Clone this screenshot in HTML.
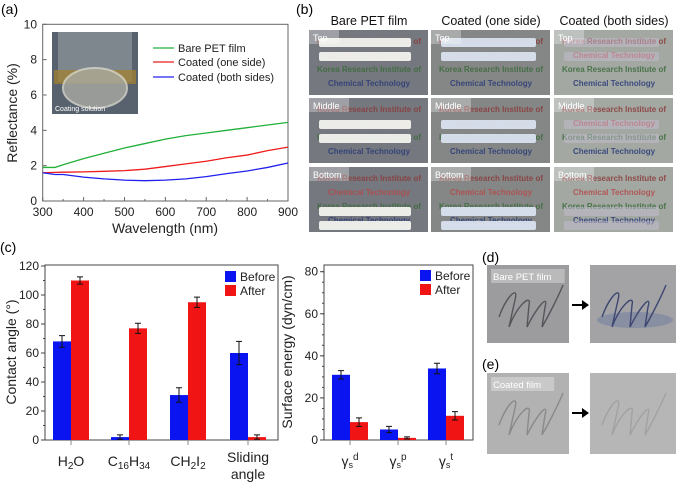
<!DOCTYPE html>
<html><head><meta charset="utf-8"><style>
body{margin:0;background:#fff;font-family:"Liberation Sans",Arial,sans-serif}
svg{display:block}
text{font-family:"Liberation Sans",Arial,sans-serif}
</style></head><body>
<svg id="fig" width="676" height="485" viewBox="0 0 676 485">
<rect width="676" height="485" fill="#fff"/>
<text x="1" y="14" font-size="14">(a)</text>
<text x="296" y="14" font-size="14">(b)</text>
<text x="0" y="252" font-size="14">(c)</text>
<text x="482" y="262" font-size="14">(d)</text>
<text x="482" y="369" font-size="14">(e)</text>

<g id="pa"></g>
<g id="pb"></g>
<g id="pc1"></g>
<g id="pc2"></g>
<g id="pd"></g>
</svg>
<script>
const NS="http://www.w3.org/2000/svg";
function mk(p,t,a,txt){const e=document.createElementNS(NS,t);for(const k in a)e.setAttribute(k,a[k]);if(txt!==undefined)e.textContent=txt;p.appendChild(e);return e;}

const wl=[300,330,350,400,450,500,550,600,650,700,750,800,850,900];
const bare=[1.9,1.9,2.05,2.4,2.7,3.0,3.25,3.5,3.7,3.85,4.0,4.15,4.3,4.45];
const oneSide=[1.6,1.62,1.63,1.65,1.68,1.72,1.8,1.95,2.1,2.25,2.45,2.6,2.85,3.05];
const bothSides=[1.6,1.5,1.5,1.35,1.25,1.18,1.15,1.18,1.25,1.38,1.55,1.7,1.9,2.15];
const aXTicks=[300,400,500,600,700,800,900];
const aYTicks=[0,2,4,6,8,10];

const pa=document.getElementById('pa');
const ax=v=>42.7+(v-300)/600*245.3, ay=v=>201-v/10*176.7;
mk(pa,'rect',{x:42.7,y:24.3,width:245.3,height:176.7,fill:'none',stroke:'#666','stroke-width':1});
aXTicks.forEach(t=>{mk(pa,'line',{x1:ax(t),x2:ax(t),y1:201,y2:197,stroke:'#666'});
 let e=mk(pa,'text',{x:ax(t),y:216,'font-size':12,'text-anchor':'middle',fill:'#222'},t);});
for(let t=350;t<900;t+=100){mk(pa,'line',{x1:ax(t),x2:ax(t),y1:201,y2:199,stroke:'#666'});}
aYTicks.forEach(t=>{mk(pa,'line',{x1:42.7,x2:46.7,y1:ay(t),y2:ay(t),stroke:'#666'});
 let e=mk(pa,'text',{x:37,y:ay(t)+4,'font-size':12,'text-anchor':'end',fill:'#222'},t);});
let tt=mk(pa,'text',{x:165,y:233,'font-size':14,'text-anchor':'middle',fill:'#222'},'Wavelength (nm)');

tt=mk(pa,'text',{x:0,y:0,'font-size':14,'text-anchor':'middle',fill:'#222',transform:'translate(17,113) rotate(-90)'},'Reflectance (%)');

[[bare,'#22b03a','bare-pet-line'],[oneSide,'#ee1c1c','coated-one-side-line'],[bothSides,'#2020ee','coated-both-sides-line']].forEach(([s,c,n])=>{
 let l=mk(pa,'polyline',{points:wl.map((w,i)=>ax(w)+','+ay(s[i])).join(' '),fill:'none',stroke:c,'stroke-width':1.3});
 });
const ins=mk(pa,'g',{});
mk(ins,'rect',{x:52,y:32,width:86,height:82,fill:'#58626e'});
mk(ins,'rect',{x:58,y:32,width:74,height:50,fill:'#9aa0a4',opacity:.6});
mk(ins,'rect',{x:54,y:70,width:82,height:14,fill:'#a08030',opacity:.75});
mk(ins,'ellipse',{cx:95,cy:88,rx:32,ry:20,fill:'#a9aaa2',opacity:.8,stroke:'#d8d8cc','stroke-width':2});
mk(ins,'text',{x:55,y:111,'font-size':7,fill:'#fff'},'Coating solution');
[['Bare PET film','#22b03a',48],['Coated (one side)','#ee1c1c',62],['Coated (both sides)','#2020ee',77]].forEach(([t,c,y])=>{
 let l=mk(pa,'line',{x1:153,x2:174,y1:y,y2:y,stroke:c,'stroke-width':1.3});
 let e=mk(pa,'text',{x:178,y:y+4,'font-size':11,fill:'#222'},t);});

const pb=document.getElementById('pb');
const cols=[309,431,554], rows=[30,98,167], rowNames=['Top','Middle','Bottom'];
const titles=['Bare PET film','Coated (one side)','Coated (both sides)'];
const bgs=['#75787e','#858786','#a3a8a2'];
titles.forEach((t,i)=>{let e=mk(pb,'text',{x:cols[i]+60,y:25,'font-size':12.5,'text-anchor':'middle',fill:'#111'},t);});
cols.forEach((cx,ci)=>rows.forEach((ry,ri)=>{
 const g=mk(pb,'g',{});
 mk(g,'rect',{x:cx,y:ry,width:119,height:65,fill:bgs[ci]});
 const lines=[['Korea Research Institute of','#8a3a3a'],['Chemical Technology','#b44a4a'],['Korea Research Institute of','#3b6a3b'],['Chemical Technology','#2a3a78']];
 lines.forEach((l,k)=>mk(g,'text',{x:cx+60,y:ry+14+k*14,'font-size':8,'font-weight':'bold','text-anchor':'middle',fill:l[1],opacity:.85},l[0]));
 const stripeY=ri===0?[ry+8,ry+22]:ri===1?[ry+22,ry+36]:[ry+40,ry+54];
 const sc=ci===0?'#f2f2ee':ci===1?'#d8e2ee':'#c9c0d8';
 const so=ci===2?0.45:0.95;
 stripeY.forEach(y=>mk(g,'rect',{x:cx+10,y:y,width:ci===0?92:95,height:9,fill:sc,opacity:so,rx:2}));
 mk(g,'rect',{x:cx,y:ry,width:ri===0?30:40,height:14,fill:'#fff',opacity:.3});
 mk(g,'text',{x:cx+4,y:ry+11,'font-size':9,fill:'#fff'},rowNames[ri]);
}));

const caCats=['H2O','C16H34','CH2I2','Sliding angle'];
const caBefore=[68,2,31,60], caBeforeErr=[4,1.5,5,8];
const caAfter=[110,77,95,2], caAfterErr=[2.5,3.5,3.5,1.5];
const caTicks=[0,20,40,60,80,100,120];
const seCats=['gd','gp','gt'];
const seBefore=[31,5,34], seBeforeErr=[2,1.5,2.5];
const seAfter=[8.5,1,11.5], seAfterErr=[2,0.5,2];
const seTicks=[0,20,40,60,80];

function barChart(g,x0,x1,y0,yTop,maxV,ticks,minorStep,centers,bef,befE,aft,aftE){
 const y=v=>y0-v/maxV*(y0-yTop);
 mk(g,'rect',{x:x0,y:265,width:x1-x0,height:y0-265,fill:'none',stroke:'#444'});
 ticks.forEach(t=>{mk(g,'line',{x1:x0,x2:x0-4,y1:y(t),y2:y(t),stroke:'#444'});
  let e=mk(g,'text',{x:x0-6,y:y(t)+4,'font-size':12,'text-anchor':'end',fill:'#222'},t);});
 for(let v=0;v<=ticks[ticks.length-1];v+=minorStep)mk(g,'line',{x1:x0,x2:x0-2,y1:y(v),y2:y(v),stroke:'#444'});
 centers.forEach((c,i)=>{
  mk(g,'line',{x1:c,x2:c,y1:y0,y2:y0+5,stroke:'#888'});
  let b=mk(g,'rect',{x:c-18,y:y(bef[i]),width:18,height:y0-y(bef[i]),fill:'#0a14f0'});
  let a=mk(g,'rect',{x:c,y:y(aft[i]),width:18,height:y0-y(aft[i]),fill:'#f01414'});
  [[c-9,bef[i],befE[i]],[c+9,aft[i],aftE[i]]].forEach(([cx,v,e])=>{
   mk(g,'path',{d:`M${cx},${y(v-e)}V${y(v+e)}M${cx-3},${y(v-e)}H${cx+3}M${cx-3},${y(v+e)}H${cx+3}`,stroke:'#111','stroke-width':1,fill:'none'});});
 });
}
function legend(g,x,y){
 mk(g,'rect',{x:x,y:y,width:11,height:11,fill:'#0a14f0'});
 let e=mk(g,'text',{x:x+15,y:y+10,'font-size':12,fill:'#222'},'Before');
 mk(g,'rect',{x:x,y:y+14,width:11,height:11,fill:'#f01414'});
 e=mk(g,'text',{x:x+15,y:y+24,'font-size':12,fill:'#222'},'After');
}
const pc1=document.getElementById('pc1');
barChart(pc1,45,278,440,266,120,caTicks,10,[71,129,188,248],caBefore,caBeforeErr,caAfter,caAfterErr);
legend(pc1,225,271);
tt=mk(pc1,'text',{x:0,y:0,'font-size':14,'text-anchor':'middle',fill:'#222',transform:'translate(16,352) rotate(-90)'},'Contact angle (°)');

const catHtml=[['H','2','O'],['C','16','H','34'],['CH','2','I','2']];
catHtml.forEach((parts,i)=>{const t=mk(pc1,'text',{x:[71,129,188][i],y:466,'font-size':14,'text-anchor':'middle',fill:'#222'});
 
 parts.forEach((p,k)=>{mk(t,'tspan',k%2?{'font-size':10,dy:3}:{'font-size':14,dy:k?-3:0},p);});});
tt=mk(pc1,'text',{x:248,y:462,'font-size':14,'text-anchor':'middle',fill:'#222'},'Sliding');
tt=mk(pc1,'text',{x:248,y:479,'font-size':14,'text-anchor':'middle',fill:'#222'},'angle');

const pc2=document.getElementById('pc2');
barChart(pc2,324,473,440,271.7,80,seTicks,5,[350,398,446],seBefore,seBeforeErr,seAfter,seAfterErr);
legend(pc2,420,270);
tt=mk(pc2,'text',{x:0,y:0,'font-size':14,'text-anchor':'middle',fill:'#222',transform:'translate(292,352) rotate(-90)'},'Surface energy (dyn/cm)');

['d','p','t'].forEach((s,i)=>{const t=mk(pc2,'text',{x:[350,398,446][i],y:466,'font-size':14,'text-anchor':'middle',fill:'#222'});
 
 mk(t,'tspan',{},'γ');mk(t,'tspan',{'font-size':9,dy:2},'s');mk(t,'tspan',{'font-size':10,dy:-8},s);});

const pd=document.getElementById('pd');
function photo(x,y,w,h,fill,lab,ink,blur){
 const g=mk(pd,'g',{});
 mk(g,'rect',{x:x,y:y,width:w,height:h,fill:fill});
 if(lab){mk(g,'rect',{x:x+4,y:y+4,width:lab.length*5.2+6,height:14,fill:'#fff',opacity:.3});mk(g,'text',{x:x+6,y:y+15,'font-size':9.5,fill:'#fff'},lab);}
 if(blur)mk(g,'ellipse',{cx:x+45,cy:y+55,rx:38,ry:8,fill:'#5a6a9a',opacity:.35});
 mk(g,'path',{d:`M${x+12},${y+52} C${x+20},${y+30} ${x+32},${y+20} ${x+28},${y+35} L${x+22},${y+62} C${x+30},${y+40} ${x+45},${y+28} ${x+42},${y+40} L${x+40},${y+62} C${x+50},${y+42} ${x+62},${y+28} ${x+58},${y+42} L${x+55},${y+62} C${x+62},${y+50} ${x+72},${y+30} ${x+76},${y+20}`,fill:'none',stroke:ink,'stroke-width':1.4});
}
photo(487,265,82,78,'#9c9c9e','Bare PET film','#55565c',false);
photo(590,265,86,78,'#a3a3a6','','#3d4770',true);
photo(487,373,82,81,'#b2b2b2','Coated film','#8a8a8c',false);
photo(590,373,86,81,'#b6b6b6','','#a2a2a4',false);
[304,412].forEach(y=>{const a=mk(pd,'path',{d:`M572,${y}H582V${y-4}L589,${y+1}L582,${y+6}V${y+2}H572Z`,fill:'#000'});});
</script>
</body></html>
